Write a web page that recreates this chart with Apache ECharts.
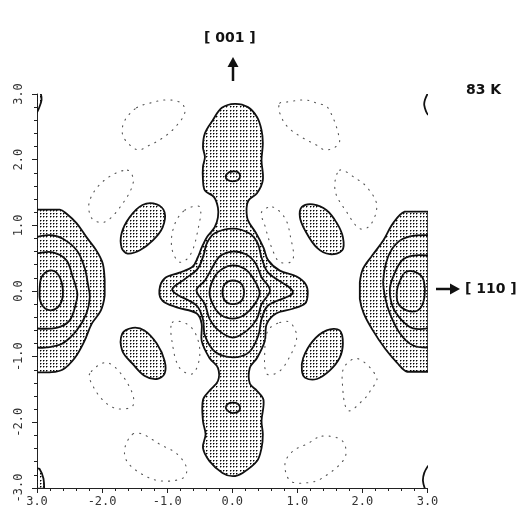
<!DOCTYPE html>
<html>
<head>
<meta charset="utf-8">
<script src="https://cdn.jsdelivr.net/npm/echarts@6/dist/echarts.min.js"></script>
<style>
html,body{margin:0;padding:0;background:#fff}
#chart{width:530px;height:512px}
</style>
</head>
<body>
<div id="chart"></div>
<script>
// Tick labels as printed on the plot
const xTickLabels = ['3.0', '-2.0', '-1.0', '0.0', '1.0', '2.0', '3.0'];
const yTickLabels = ['-3.0', '-2.0', '-1.0', '0.0', '1.0', '2.0', '3.0'];

// Positive density lobes (stippled), outline points [x, y]
const centralLobe = [[0.04,2.85],[0.24,2.80],[0.38,2.65],[0.45,2.45],[0.47,2.25],[0.45,1.99],[0.47,1.69],[0.38,1.49],[0.25,1.38],[0.22,1.26],[0.24,1.08],[0.36,0.89],[0.48,0.66],[0.55,0.47],[0.73,0.31],[0.99,0.22],[1.13,0.10],[1.16,-0.04],[1.12,-0.19],[0.93,-0.27],[0.68,-0.34],[0.53,-0.50],[0.50,-0.76],[0.38,-1.02],[0.27,-1.17],[0.27,-1.41],[0.38,-1.52],[0.48,-1.66],[0.45,-1.98],[0.47,-2.18],[0.45,-2.39],[0.38,-2.59],[0.16,-2.77],[0.01,-2.82],[-0.15,-2.77],[-0.35,-2.59],[-0.45,-2.39],[-0.41,-2.18],[-0.45,-1.98],[-0.45,-1.66],[-0.35,-1.52],[-0.22,-1.37],[-0.22,-1.17],[-0.35,-1.02],[-0.47,-0.76],[-0.47,-0.50],[-0.55,-0.34],[-0.85,-0.25],[-1.07,-0.15],[-1.12,0.01],[-1.04,0.19],[-0.81,0.28],[-0.61,0.37],[-0.53,0.51],[-0.47,0.66],[-0.39,0.82],[-0.27,0.97],[-0.22,1.12],[-0.22,1.27],[-0.28,1.43],[-0.42,1.53],[-0.45,1.69],[-0.45,1.89],[-0.42,2.04],[-0.45,2.19],[-0.42,2.40],[-0.30,2.60],[-0.16,2.79]];
const lobeUpperLeft = [[-1.70,0.66],[-1.70,0.88],[-1.58,1.12],[-1.38,1.31],[-1.16,1.32],[-1.04,1.20],[-1.07,0.97],[-1.22,0.77],[-1.42,0.62],[-1.61,0.57]];
const lobeUpperRight = [[1.07,1.28],[1.24,1.32],[1.45,1.23],[1.61,1.03],[1.70,0.82],[1.69,0.62],[1.50,0.56],[1.30,0.66],[1.12,0.92],[1.04,1.12]];
const lobeLowerLeft = [[-1.69,-0.65],[-1.53,-0.56],[-1.35,-0.60],[-1.16,-0.80],[-1.04,-1.06],[-1.04,-1.26],[-1.16,-1.34],[-1.35,-1.29],[-1.53,-1.11],[-1.69,-0.91]];
const lobeLowerRight = [[1.07,-1.21],[1.09,-1.02],[1.24,-0.76],[1.45,-0.60],[1.65,-0.60],[1.70,-0.80],[1.65,-1.02],[1.50,-1.21],[1.30,-1.34],[1.12,-1.32]];
const edgeLobeLeft = [[-3.01,1.24],[-2.65,1.24],[-2.55,1.18],[-2.39,1.03],[-2.24,0.82],[-2.09,0.62],[-1.99,0.42],[-1.96,0.16],[-1.96,-0.07],[-2.02,-0.30],[-2.16,-0.50],[-2.27,-0.76],[-2.42,-1.02],[-2.61,-1.20],[-2.81,-1.24],[-3.01,-1.24]];
const edgeLobeRight = [[3.01,1.21],[2.65,1.21],[2.47,1.03],[2.32,0.77],[2.15,0.54],[2.01,0.34],[1.96,0.13],[1.96,-0.12],[2.02,-0.34],[2.16,-0.60],[2.35,-0.88],[2.53,-1.09],[2.69,-1.23],[3.01,-1.23]];
const cornerTopLeft = [[-3.01,3.03],[-2.95,3.02],[-2.93,2.91],[-2.98,2.76],[-3.01,2.71]];
const cornerBottomLeft = [[-3.01,-2.70],[-2.96,-2.71],[-2.90,-2.86],[-2.89,-3.01],[-3.01,-3.01]];

// Higher solid contour levels
const ringUpper = [[-0.10,1.75],[-0.05,1.81],[0.01,1.82],[0.09,1.81],[0.12,1.75],[0.09,1.69],[0.01,1.67],[-0.07,1.69]];
const ringLower = [[-0.10,-1.78],[-0.07,-1.72],[0.01,-1.70],[0.09,-1.72],[0.12,-1.78],[0.09,-1.84],[0.01,-1.86],[-0.05,-1.84]];
const coreLevel1 = [[-0.92,0.01],[-0.73,0.18],[-0.53,0.34],[-0.44,0.55],[-0.39,0.73],[-0.27,0.88],[0.01,0.95],[0.26,0.88],[0.39,0.73],[0.45,0.51],[0.55,0.28],[0.93,-0.02],[0.55,-0.22],[0.45,-0.43],[0.40,-0.68],[0.26,-0.93],[0.01,-1.01],[-0.26,-0.93],[-0.42,-0.68],[-0.45,-0.43],[-0.55,-0.22]];
const coreLevel2 = [[-0.55,0.01],[-0.42,0.16],[-0.31,0.35],[-0.19,0.53],[0.01,0.60],[0.21,0.56],[0.36,0.42],[0.45,0.21],[0.58,0.01],[0.45,-0.20],[0.38,-0.42],[0.23,-0.60],[0.01,-0.71],[-0.21,-0.60],[-0.35,-0.42],[-0.42,-0.20]];
const coreLevel3 = [[-0.35,-0.02],[-0.27,0.22],[-0.15,0.34],[0.01,0.39],[0.19,0.34],[0.31,0.21],[0.42,-0.03],[0.33,-0.22],[0.19,-0.36],[0.01,-0.42],[-0.18,-0.36],[-0.29,-0.22]];
const coreLevel4 = [[-0.15,-0.02],[-0.11,0.11],[0.01,0.16],[0.14,0.11],[0.18,-0.02],[0.14,-0.15],[0.01,-0.20],[-0.11,-0.15]];
const edgeLeftInner = [[-2.96,0.01],[-2.93,0.21],[-2.81,0.31],[-2.69,0.27],[-2.61,0.08],[-2.62,-0.15],[-2.73,-0.28],[-2.87,-0.27],[-2.95,-0.15]];
const edgeRightInner = [[2.53,0.01],[2.58,0.16],[2.65,0.28],[2.78,0.30],[2.92,0.21],[2.96,0.01],[2.93,-0.19],[2.84,-0.30],[2.69,-0.30],[2.55,-0.19]];
const edgeLeftLevel1 = [[-3.01,0.82],[-2.81,0.85],[-2.61,0.80],[-2.39,0.62],[-2.27,0.36],[-2.22,0.12],[-2.19,-0.10],[-2.24,-0.34],[-2.39,-0.60],[-2.61,-0.80],[-2.85,-0.86],[-3.01,-0.86]];
const edgeLeftLevel2 = [[-3.01,0.57],[-2.76,0.59],[-2.55,0.47],[-2.45,0.21],[-2.38,-0.04],[-2.41,-0.22],[-2.50,-0.45],[-2.70,-0.56],[-3.01,-0.57]];
const edgeRightLevel1 = [[3.01,0.85],[2.73,0.83],[2.53,0.73],[2.39,0.51],[2.32,0.16],[2.35,-0.10],[2.42,-0.34],[2.58,-0.65],[2.78,-0.83],[3.01,-0.86]];
const edgeRightLevel2 = [[3.01,0.54],[2.78,0.54],[2.61,0.47],[2.47,0.21],[2.42,0.01],[2.47,-0.25],[2.61,-0.45],[2.78,-0.57],[3.01,-0.57]];
const cornerTopRight = [[3.01,3.02],[2.96,2.91],[2.95,2.83],[2.98,2.73],[3.01,2.68]];
const cornerBottomRight = [[3.01,-2.66],[2.95,-2.77],[2.93,-2.89],[2.96,-3.01]];

// Negative contours (dotted)
const hollowTopLeft = [[-1.47,2.79],[-1.27,2.86],[-1.01,2.91],[-0.78,2.86],[-0.73,2.71],[-0.89,2.48],[-1.07,2.33],[-1.27,2.22],[-1.45,2.15],[-1.62,2.27],[-1.69,2.41],[-1.65,2.60]];
const hollowTopRight = [[0.73,2.86],[0.85,2.88],[1.12,2.91],[1.30,2.86],[1.47,2.79],[1.65,2.30],[1.58,2.19],[1.42,2.15],[1.30,2.22],[1.07,2.34],[0.85,2.50],[0.73,2.71]];
const hollowLeftUpper = [[-1.61,1.84],[-1.52,1.66],[-1.70,1.31],[-1.96,1.05],[-2.16,1.11],[-2.19,1.38],[-1.96,1.69]];
const hollowInnerUL = [[-0.73,1.23],[-0.50,1.28],[-0.53,0.92],[-0.65,0.54],[-0.81,0.44],[-0.93,0.66],[-0.89,1.00]];
const hollowRightUpper = [[1.65,1.84],[1.89,1.72],[2.07,1.58],[2.22,1.31],[2.12,1.00],[1.96,0.95],[1.76,1.20],[1.58,1.53]];
const hollowInnerUR = [[0.62,1.28],[0.81,1.11],[0.89,0.85],[0.93,0.47],[0.73,0.44],[0.61,0.65],[0.50,1.00],[0.45,1.20]];
const hollowInnerLL = [[-0.92,-0.48],[-0.70,-0.50],[-0.55,-0.68],[-0.50,-0.99],[-0.61,-1.26],[-0.81,-1.17],[-0.92,-0.80]];
const hollowLeftLower = [[-2.19,-1.26],[-2.16,-1.41],[-1.99,-1.66],[-1.78,-1.79],[-1.53,-1.75],[-1.55,-1.52],[-1.78,-1.18],[-1.96,-1.09]];
const hollowBottomLeft = [[-1.53,-2.18],[-1.38,-2.18],[-1.12,-2.33],[-0.85,-2.48],[-0.70,-2.70],[-0.76,-2.85],[-1.12,-2.89],[-1.42,-2.77],[-1.62,-2.59],[-1.65,-2.39]];
const hollowInnerLR = [[0.73,-0.48],[0.89,-0.48],[0.99,-0.71],[0.85,-1.06],[0.70,-1.24],[0.53,-1.26],[0.50,-0.91],[0.55,-0.60]];
const hollowRightLower = [[1.93,-1.03],[2.22,-1.32],[2.12,-1.52],[2.04,-1.63],[1.78,-1.82],[1.69,-1.37],[1.73,-1.14]];
const hollowBottomRight = [[1.38,-2.21],[1.69,-2.28],[1.73,-2.54],[1.38,-2.85],[1.15,-2.92],[0.89,-2.89],[0.81,-2.63],[0.93,-2.44],[1.15,-2.33]];

// Layers handed to the custom series
const BOX = [[Infinity, Infinity], [-Infinity, -Infinity]];
const filledLayer = [
  { pts: centralLobe }, { pts: lobeUpperLeft }, { pts: lobeUpperRight },
  { pts: lobeLowerLeft }, { pts: lobeLowerRight },
  { pts: edgeLobeLeft, box: true }, { pts: edgeLobeRight, box: true },
  { pts: cornerTopLeft, box: true }, { pts: cornerBottomLeft, box: true }
];
const solidLayer = [
  { pts: ringUpper, closed: true }, { pts: ringLower, closed: true },
  { pts: coreLevel1, closed: true }, { pts: coreLevel2, closed: true },
  { pts: coreLevel3, closed: true }, { pts: coreLevel4, closed: true },
  { pts: edgeLeftInner, closed: true }, { pts: edgeRightInner, closed: true },
  { pts: edgeLeftLevel1 }, { pts: edgeLeftLevel2 },
  { pts: edgeRightLevel1 }, { pts: edgeRightLevel2 },
  { pts: cornerTopRight }, { pts: cornerBottomRight }
];
const dottedLayer = [
  hollowTopLeft, hollowTopRight, hollowLeftUpper, hollowInnerUL, hollowRightUpper, hollowInnerUR,
  hollowInnerLL, hollowLeftLower, hollowBottomLeft, hollowInnerLR, hollowRightLower, hollowBottomRight
].map(p => ({ pts: p, closed: true }));

// Stipple pattern for the positive regions
const stipple = document.createElement('canvas');
stipple.width = 10; stipple.height = 10;
(function () {
  const g = stipple.getContext('2d');
  [0, 3, 6].forEach(x => [0, 3, 6].forEach(y => {
    g.fillStyle = '#000';
    g.fillRect(x, y, 1, 1);
    g.fillStyle = 'rgba(0,0,0,0.45)';
    g.fillRect(x + 1, y, 1, 1);
    g.fillRect(x, y + 1, 1, 1);
  }));
})();

function layerSeries(layer, style, forceClosed) {
  return {
    type: 'custom',
    coordinateSystem: 'cartesian2d',
    clip: true,
    silent: true,
    data: layer.map(s => s.pts[0]),
    renderItem: function (params, api) {
      const s = layer[params.dataIndex];
      const closed = forceClosed || s.closed;
      const shape = { points: s.pts.map(p => api.coord(p)), smooth: 0.35 };
      if (s.box) shape.smoothConstraint = BOX;
      return { type: closed ? 'polygon' : 'polyline', shape: shape, style: Object.assign({}, style) };
    }
  };
}

const tickFont = { fontFamily: 'DejaVu Sans Mono', fontSize: 12, color: '#333' };
const chart = echarts.init(document.getElementById('chart'), null, { renderer: 'canvas' });
chart.setOption({
  animation: false,
  backgroundColor: '#fff',
  grid: { left: 37, right: 102.5, top: 94, bottom: 24 },
  xAxis: {
    type: 'value', min: -3, max: 3, interval: 1,
    axisLine: { show: true, onZero: false, lineStyle: { color: '#222', width: 1 } },
    axisTick: { show: true, length: 5, lineStyle: { color: '#222' } },
    minorTick: { show: true, splitNumber: 5, length: 3, lineStyle: { color: '#222' } },
    splitLine: { show: false },
    axisLabel: Object.assign({ margin: 8, formatter: v => xTickLabels[Math.round(v + 3)] }, tickFont)
  },
  yAxis: {
    type: 'value', min: -3, max: 3, interval: 1,
    axisLine: { show: true, onZero: false, lineStyle: { color: '#222', width: 1 } },
    axisTick: { show: true, length: 5, lineStyle: { color: '#222' } },
    minorTick: { show: true, splitNumber: 5, length: 3, lineStyle: { color: '#222' } },
    splitLine: { show: false },
    axisLabel: Object.assign({ margin: 12, rotate: 90, formatter: v => yTickLabels[Math.round(v + 3)] }, tickFont)
  },
  series: [
    layerSeries(filledLayer, { fill: { image: stipple, repeat: 'repeat' }, stroke: '#111', lineWidth: 1.8 }, true),
    layerSeries(solidLayer, { fill: null, stroke: '#111', lineWidth: 1.8 }, false),
    layerSeries(dottedLayer, { fill: null, stroke: '#555', lineWidth: 1.1, lineDash: [1.1, 6], lineCap: 'round' }, true)
  ],
  graphic: [
    { type: 'text', left: 232 - 28, top: 31, style: { text: '[ 001 ]', font: 'bold 14px "DejaVu Sans"', fill: '#111' } },
    { type: 'line', shape: { x1: 233, y1: 81, x2: 233, y2: 64 }, style: { stroke: '#111', lineWidth: 2.5 } },
    { type: 'polygon', shape: { points: [[227.5, 67], [233, 57], [238.5, 67]] }, style: { fill: '#111' } },
    { type: 'text', left: 466, top: 83, style: { text: '83 K', font: 'bold 14px "DejaVu Sans"', fill: '#111' } },
    { type: 'line', shape: { x1: 436, y1: 289, x2: 452, y2: 289 }, style: { stroke: '#111', lineWidth: 2.5 } },
    { type: 'polygon', shape: { points: [[450, 283.5], [460, 289], [450, 294.5]] }, style: { fill: '#111' } },
    { type: 'text', left: 465, top: 282, style: { text: '[ 110 ]', font: 'bold 14px "DejaVu Sans"', fill: '#111' } }
  ]
});
</script>
</body>
</html>
